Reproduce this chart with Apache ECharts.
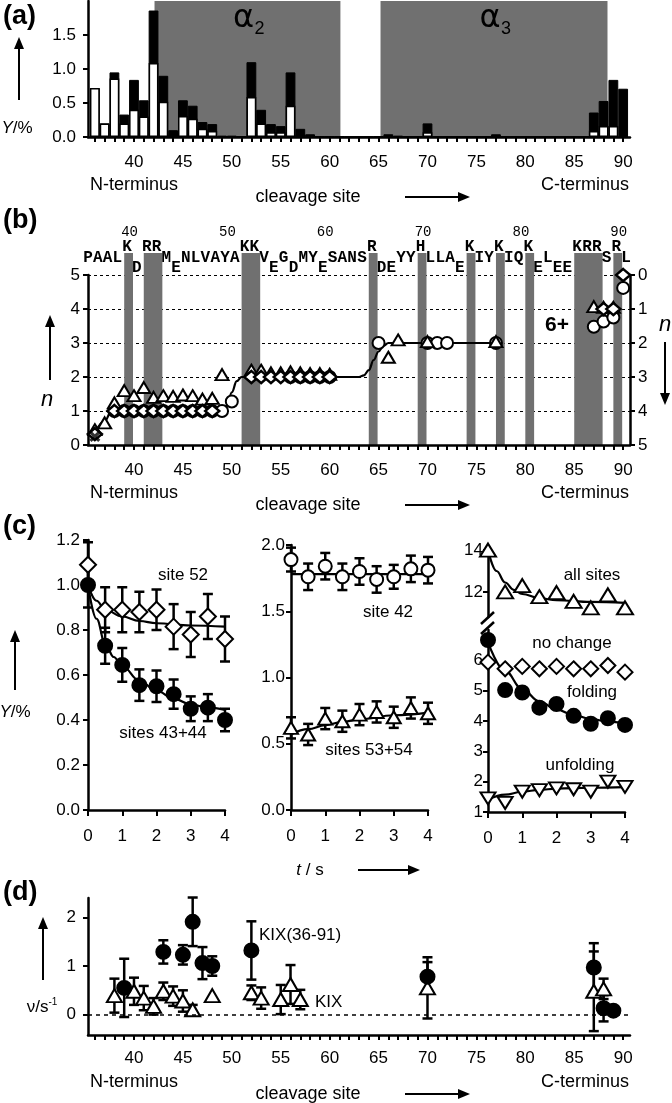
<!DOCTYPE html>
<html>
<head>
<meta charset="utf-8">
<title>KIX cleavage sites</title>
<script src="https://cdn.jsdelivr.net/npm/echarts@6/dist/echarts.min.js"></script>
<style>
    html, body { margin: 0; padding: 0; background: #fff; }
    #main { width: 672px; height: 1103px; }
</style>
</head>
<body>
<div id="main"></div>
<script>
// (a) yield per cleavage site: total (c+z, black) and z part (white)
var sites = [36,37,38,39,40,41,42,43,44,45,46,47,48,49,50,51,52,53,54,55,56,57,58,59,60,61,62,63,64,65,
             66,67,68,69,70,71,72,73,74,75,76,77,78,79,80,81,82,83,84,85,86,87,88,89,90];
var siteLabels = [40,45,50,55,60,65,70,75,80,85,90];
var yieldTotal = [0.72,0.20,0.95,0.33,0.84, 0.54,1.86,0.90,0.10,0.54, 0.46,0.22,0.19,0.02,0.02,
                  0.01,1.10,0.40,0.19,0.16, 0.95,0.12,0.04,0.01,0.01, 0.01,0,0,0,0.01,
                  0.04,0.02,0,0,0.20, 0,0,0,0,0, 0,0.04,0,0,0, 0,0,0,0,0, 0,0.36,0.53,0.84,0.71];
var yieldZ = [0.72,0.20,0.86,0.20,0.40, 0.30,1.09,0.52,0.03,0.31, 0.27,0.12,0.09,0,0,
              0,0.59,0.20,0.07,0.07, 0.46,0.03,0.01,0,0, 0,0,0,0,0,
              0,0,0,0,0.07, 0,0,0,0,0, 0,0,0,0,0, 0,0,0,0,0, 0,0.09,0.16,0.16,0];
var helices = [[42.1, 61.1], [65.2, 88.4]];
var helixNames = ['2', '3'];

// (b) sequence and number of charges n
var seqStart = 36;
var sequence = 'PAALKDRRMENLVAYAKKVEGDMYESANSRDEYYHLLAEKIYKIQKELEEKRRSRL';
var seqNumbers = [40,50,60,70,80,90];
var nFit = [[36,0.35],[37,0.7],[37.7,1.0],[49,1.02],[49.5,1.15],[50,1.55],[50.5,1.88],[51,2.0],
            [63,2.0],[63.5,2.05],[64,2.2],[64.5,2.5],[65,2.75],[65.5,2.92],[66,3.0],[77,3.0]];
var nTriangle = [[36,0.45],[37,0.65],[38,1.24],[39,1.6],[40,1.45],[41,1.69],[42,1.4],[43,1.45],[44,1.43],
                 [45,1.47],[46,1.45],[47,1.35],[48,1.37],[49,2.07],[52,2.2],[53,2.2],[54,2.12],[55,2.12],
                 [56,2.15],[57,2.12],[58,2.1],[59,2.1],[60,2.08],[66,2.58],[67,3.09],[70,3.04],[77,3.04],
                 [87,4.07],[88,4.05],[89,4.05]];
var nCircle = [[38,1.0],[39,1.0],[40,1.0],[41,1.0],[42,1.0],[43,1.0],[44,1.0],[45,1.0],[46,1.0],[47,1.0],
               [48,1.0],[49,1.0],[50,1.28],[56,2.0],[57,2.0],[58,2.0],[59,2.0],[60,2.0],[65,3.0],
               [70,3.0],[71,3.0],[72,3.0],[77,3.0],[87,3.48],[88,3.63],[89,3.75],[90,4.62]];
var nDiamond = [[36,0.32],[38,1.0],[39,1.0],[40,1.0],[41,1.0],[42,1.0],[43,1.0],[44,1.0],[45,1.0],[46,1.0],
                [47,1.0],[48,1.0],[52,2.0],[53,2.0],[54,2.0],[55,2.0],[56,2.0],[57,2.0],[58,2.0],[59,2.0],
                [60,2.0],[88,4.0],[89,4.0],[90,5.0]];
var nCross = [[36,0.25]];

// (c) kinetics, t in s
var tPts = [0,0.5,1,1.5,2,2.5,3,3.5,4];
var site52 = [1.09,0.89,0.89,0.88,0.89,0.815,0.78,0.86,0.76];
var site52Err = [0.1,0.1,0.1,0.09,0.09,0.1,0.1,0.1,0.1];
var site52Fit = [[0,1.0],[0.25,0.93],[0.5,0.89],[1,0.86],[1.5,0.84],[2,0.83],[3,0.82],[4,0.815]];
var sites4344 = [1.0,0.73,0.645,0.555,0.55,0.515,0.45,0.455,0.4];
var sites4344Err = [0.1,0.08,0.075,0.07,0.07,0.065,0.055,0.06,0.05];
var sites4344Fit = [[0,1.0],[0.25,0.85],[0.5,0.74],[0.75,0.68],[1,0.64],[1.5,0.575],[2,0.53],[2.5,0.495],
                    [3,0.47],[3.5,0.455],[4,0.445]];
var site42 = [1.89,1.76,1.84,1.76,1.8,1.74,1.76,1.82,1.81];
var site42Err = [0.09,0.1,0.1,0.1,0.1,0.1,0.09,0.1,0.1];
var site42Fit = [[0,1.78],[4,1.78]];
var sites5354 = [0.62,0.57,0.69,0.67,0.72,0.74,0.70,0.77,0.73];
var sites5354Err = [0.08,0.08,0.08,0.08,0.08,0.08,0.08,0.08,0.08];
var sites5354Fit = [[0,0.57],[0.5,0.61],[1,0.64],[1.5,0.665],[2,0.685],[3,0.715],[4,0.735]];
var allSites = [14.0,12.0,12.3,11.77,11.97,11.55,11.24,11.86,11.24];
var allSitesFit = [[0,14.0],[0.25,13.0],[0.5,12.45],[0.75,12.1],[1,11.9],[1.5,11.7],[2,11.6],[3,11.52],[4,11.48]];
var noChange = [5.94,5.72,5.8,5.72,5.8,5.72,5.72,5.83,5.61];
var folding = [6.67,5.02,4.94,4.44,4.56,4.17,3.91,4.09,3.87];
var foldingFit = [[0,6.6],[0.5,5.65],[1,5.05],[1.5,4.65],[2,4.38],[2.5,4.2],[3,4.07],[3.5,3.98],[4,3.92]];
var unfolding = [1.45,1.3,1.67,1.72,1.78,1.75,1.67,2.0,1.83];
var unfoldingFit = [[0,1.4],[0.5,1.57],[1,1.67],[1.5,1.73],[2,1.77],[3,1.8],[4,1.82]];

// (d) rates
var rateSitesFull = [39,43,45,46,47,48,52,70,87,88,89];
var rateFull = [0.55,1.29,1.23,1.91,1.06,1.0,1.32,0.78,0.97,0.13,0.08];
var rateFullErr = [0.6,0.24,0.2,0.5,0.33,0.2,0.6,0.3,0.5,0.27,0];
var rateSitesKix = [38,40,41,42,43,44,45,46,48,52,53,55,56,57,70,87,88];
var rateKix = [0.39,0.48,0.34,0.17,0.48,0.38,0.28,0.1,0.39,0.45,0.34,0.31,0.62,0.31,0.55,0.48,0.53];
var rateKixErr = [0.35,0.28,0.25,0.17,0.18,0.2,0.22,0.1,0,0.15,0.22,0.3,0.4,0.2,0.63,0.82,0.21];

var FONT = 'Liberation Sans';
var chart = echarts.init(document.getElementById('main'));

function pairs(xs, ys) { return xs.map(function (x, i) { return [x, ys[i]]; }); }
function errPairs(xs, ys, es) {
    var out = [];
    xs.forEach(function (x, i) { if (es[i] > 0) out.push([x, ys[i] - es[i], ys[i] + es[i]]); });
    return out;
}

function residueAxis(gi, margin) {
    return {
        type: 'value', gridIndex: gi, min: 35.3, max: 90.7,
        axisLine: { onZero: false, lineStyle: { color: '#000', width: 2.5 } },
        axisTick: { customValues: sites, length: 5, lineStyle: { color: '#000', width: 2 } },
        axisLabel: { customValues: siteLabels, margin: margin, color: '#000', fontSize: 17, fontFamily: FONT },
        splitLine: { show: false }
    };
}
function timeAxis(gi) {
    return {
        type: 'value', gridIndex: gi, min: 0, max: 4, interval: 1,
        axisLine: { onZero: false, lineStyle: { color: '#000', width: 2.5 } },
        axisTick: { length: 6, lineStyle: { color: '#000', width: 2 } },
        axisLabel: { margin: 18, color: '#000', fontSize: 17, fontFamily: FONT },
        splitLine: { show: false }
    };
}
function valAxis(gi, o) {
    var ax = {
        type: 'value', gridIndex: gi,
        axisLine: { show: true, onZero: false, lineStyle: { color: '#000', width: 2.5 } },
        axisTick: { show: true, length: 5, lineStyle: { color: '#000', width: 2 } },
        axisLabel: { margin: 8, color: '#000', fontSize: 17, fontFamily: FONT },
        splitLine: { show: false }
    };
    for (var k in o) {
        if (typeof o[k] === 'object' && ax[k] && !Array.isArray(o[k])) Object.assign(ax[k], o[k]);
        else ax[k] = o[k];
    }
    return ax;
}

function errorBar(params, api) {
    var lo = api.coord([api.value(0), api.value(1)]);
    var hi = api.coord([api.value(0), api.value(2)]);
    var w = 5, st = { stroke: '#000', lineWidth: 2.5 };
    return { type: 'group', children: [
        { type: 'line', shape: { x1: lo[0], y1: lo[1], x2: hi[0], y2: hi[1] }, style: st },
        { type: 'line', shape: { x1: lo[0] - w, y1: lo[1], x2: lo[0] + w, y2: lo[1] }, style: st },
        { type: 'line', shape: { x1: hi[0] - w, y1: hi[1], x2: hi[0] + w, y2: hi[1] }, style: st }
    ]};
}
function errSeries(xi, yi, data) {
    return { type: 'custom', xAxisIndex: xi, yAxisIndex: yi, renderItem: errorBar, data: data, z: 3, clip: false };
}
function fitSeries(xi, yi, data) {
    return { type: 'line', xAxisIndex: xi, yAxisIndex: yi, data: data, smooth: 0.4, smoothMonotone: 'x',
             showSymbol: false, lineStyle: { color: '#000', width: 2.2 }, z: 2 };
}
function markers(xi, yi, data, symbol, size, filled, rotate, bw) {
    return { type: 'scatter', xAxisIndex: xi, yAxisIndex: yi, data: data, symbol: symbol, symbolSize: size,
             symbolRotate: rotate || 0, clip: false,
             itemStyle: { color: filled ? '#000' : '#fff', borderColor: '#000', borderWidth: bw || 2, opacity: 1 }, z: 4 };
}

// sequence letters: basic residues on top row, acidic on bottom row
var seqItems = [];
for (var i = 0; i < sequence.length; i++) {
    var ch = sequence[i], r = seqStart + i;
    var row = 'KRH'.indexOf(ch) >= 0 ? 5.82 : ('DE'.indexOf(ch) >= 0 ? 5.21 : 5.5);
    seqItems.push({ x: r - 0.7, y: row, text: ch, font: 'bold 16px "Liberation Mono"' });
}
seqNumbers.forEach(function (n) {
    seqItems.push({ x: n - 0.45, y: 6.26, text: String(n), font: '14px "Liberation Mono"' });
});
// grey bands under runs of basic residues
var bands = [];
for (var j = 0; j < sequence.length; j++) {
    if ('KRH'.indexOf(sequence[j]) < 0) continue;
    var s = j;
    while (j + 1 < sequence.length && 'KRH'.indexOf(sequence[j + 1]) >= 0) j++;
    bands.push([seqStart + s - 1.0, seqStart + j - 0.1]);
}

function txt(x, y, s, font, align, rich) {
    var st = { text: s, font: font, fill: '#000', align: align || 'center', verticalAlign: 'middle' };
    if (rich) st.rich = rich;
    return { type: 'text', x: x, y: y, style: st };
}
function arrow(x1, y1, x2, y2) {
    var a = Math.atan2(y2 - y1, x2 - x1), L = 12, W = 5;
    var bx = x2 - L * Math.cos(a), by = y2 - L * Math.sin(a);
    var px = -Math.sin(a) * W, py = Math.cos(a) * W;
    return [
        { type: 'line', shape: { x1: x1, y1: y1, x2: bx, y2: by }, style: { stroke: '#000', lineWidth: 2 } },
        { type: 'polygon', shape: { points: [[x2, y2], [bx + px, by + py], [bx - px, by - py]] }, style: { fill: '#000' } }
    ];
}

var F17 = '17px "' + FONT + '"', F18 = '18px "' + FONT + '"', PB = 'bold 27px "' + FONT + '"';
var italicRich = { i: { fontStyle: 'italic', fontFamily: FONT, fontSize: 17 } };
var graphics = [
    txt(3, 17, '(a)', PB, 'left'), txt(3, 221, '(b)', PB, 'left'),
    txt(3, 527, '(c)', PB, 'left'), txt(3, 893, '(d)', PB, 'left'),
    txt(17, 128, '{i|Y}/%', F17, 'center', italicRich),
    txt(15, 712, '{i|Y}/%', F17, 'center', italicRich),
    txt(47, 400, 'n', 'italic 22px "' + FONT + '"'),
    txt(665, 325, 'n', 'italic 22px "' + FONT + '"'),
    txt(42, 1007, 'ν/s{s|-1}', F17, 'center', { s: { fontSize: 10, fontFamily: FONT, verticalAlign: 'top', padding: [0, 0, 10, 0] } }),
    txt(90, 185, 'N-terminus', F18, 'left'), txt(629, 185, 'C-terminus', F18, 'right'),
    txt(308, 197, 'cleavage site', F18),
    txt(90, 493, 'N-terminus', F18, 'left'), txt(629, 493, 'C-terminus', F18, 'right'),
    txt(308, 505, 'cleavage site', F18),
    txt(90, 1082, 'N-terminus', F18, 'left'), txt(629, 1082, 'C-terminus', F18, 'right'),
    txt(308, 1094, 'cleavage site', F18),
    txt(310, 870, '{i|t} / s', F17, 'center', italicRich),
    txt(224, 75, 'c', 'italic bold 21px "Liberation Serif"'),
    txt(224, 100, 'z', 'italic bold 21px "Liberation Serif"'),
    { type: 'polyline', shape: { points: [[231, 79], [239, 83], [245, 90]] }, style: { stroke: '#000', lineWidth: 1.5, lineDash: [2, 2], fill: null } },
    { type: 'polyline', shape: { points: [[231, 103], [239, 107], [246, 115]] }, style: { stroke: '#000', lineWidth: 1.5, lineDash: [2, 2], fill: null } },
    txt(557, 325, '6+', 'bold 21px "' + FONT + '"'),
    txt(183, 575, 'site 52', F17), txt(163, 733, 'sites 43+44', F17),
    txt(388, 612, 'site 42', F17), txt(369, 750, 'sites 53+54', F17),
    txt(592, 575, 'all sites', F17), txt(572, 643, 'no change', F17),
    txt(592, 692, 'folding', F17), txt(580, 765, 'unfolding', F17),
    txt(259, 935, 'KIX(36-91)', F17, 'left'), txt(315, 1002, 'KIX', F17, 'left'),
    { type: 'line', shape: { x1: 481, y1: 624, x2: 494, y2: 612 }, style: { stroke: '#000', lineWidth: 2.5 } },
    { type: 'line', shape: { x1: 481, y1: 634, x2: 494, y2: 622 }, style: { stroke: '#000', lineWidth: 2.5 } }
];
graphics = graphics.concat(
    arrow(19, 100, 19, 37), arrow(405, 197, 470, 197),
    arrow(50, 380, 50, 315), arrow(665, 342, 665, 405), arrow(405, 505, 470, 505),
    arrow(15, 690, 15, 630), arrow(358, 870, 420, 870),
    arrow(43, 980, 43, 917), arrow(405, 1094, 470, 1094)
);

var option = {
    animation: false,
    backgroundColor: '#fff',
    grid: [
        { left: 88, top: 1, width: 542, height: 136 },
        { left: 88, top: 275, width: 542, height: 170 },
        { left: 88, top: 540, width: 137, height: 270 },
        { left: 291, top: 545, width: 137, height: 265 },
        { left: 488, top: 548, width: 137, height: 69 },
        { left: 488, top: 630, width: 137, height: 182 },
        { left: 88, top: 898, width: 542, height: 137 }
    ],
    xAxis: [
        residueAxis(0, 17), residueAxis(1, 17), timeAxis(2), timeAxis(3),
        { type: 'value', gridIndex: 4, min: 0, max: 4, show: false },
        timeAxis(5), residueAxis(6, 15)
    ],
    yAxis: [
        valAxis(0, { min: 0, max: 2.0, axisTick: { customValues: [0, 0.5, 1, 1.5] },
                     axisLabel: { customValues: [0, 0.5, 1, 1.5], margin: 12, formatter: function (v) { return v.toFixed(1); } } }),
        valAxis(1, { min: 0, max: 5, interval: 1,
                     splitLine: { show: true, lineStyle: { color: '#000', width: 1, type: [3, 3] } } }),
        valAxis(1, { min: 0, max: 5, interval: 1, inverse: true, position: 'right' }),
        valAxis(2, { min: 0, max: 1.2, interval: 0.2, axisLabel: { formatter: function (v) { return v.toFixed(1); } } }),
        valAxis(3, { min: 0, max: 2, interval: 0.5, axisLabel: { margin: 6, formatter: function (v) { return v.toFixed(1); } } }),
        valAxis(4, { min: 10.8, max: 14.1, axisTick: { customValues: [12, 14] }, axisLabel: { customValues: [12, 14], margin: 5 } }),
        valAxis(5, { min: 1, max: 7, axisTick: { customValues: [1, 2, 3, 4, 5, 6] }, axisLabel: { customValues: [1, 2, 3, 4, 5, 6], margin: 5 } }),
        valAxis(6, { min: -0.42, max: 2.4, axisTick: { customValues: [0, 1, 2] }, axisLabel: { customValues: [0, 1, 2], margin: 12 } })
    ],
    graphic: graphics,
    series: [
        // (a)
        {
            type: 'custom', xAxisIndex: 0, yAxisIndex: 0, data: helices, z: 0, clip: false,
            renderItem: function (params, api) {
                var cs = params.coordSys;
                var a = api.coord([api.value(0), 0]), b = api.coord([api.value(1), 0]);
                var cx = (a[0] + b[0]) / 2;
                return { type: 'group', children: [
                    { type: 'rect', shape: { x: a[0], y: cs.y, width: b[0] - a[0], height: cs.height }, style: { fill: '#707070' } },
                    { type: 'text', x: cx - 4, y: cs.y + 18, style: { text: 'α', font: '32px "DejaVu Sans"', fill: '#000', align: 'center', verticalAlign: 'middle' } },
                    { type: 'text', x: cx + 12, y: cs.y + 28, style: { text: helixNames[params.dataIndex], font: '18px "' + FONT + '"', fill: '#000', align: 'center', verticalAlign: 'middle' } }
                ]};
            }
        },
        { type: 'bar', xAxisIndex: 0, yAxisIndex: 0, barWidth: 9.8, barGap: '-100%', data: pairs(sites, yieldTotal),
          itemStyle: { color: '#000', borderColor: '#000', borderWidth: 1 }, z: 2 },
        { type: 'bar', xAxisIndex: 0, yAxisIndex: 0, barWidth: 9.8, barGap: '-100%', data: pairs(sites, yieldZ),
          itemStyle: { color: '#fff', borderColor: '#000', borderWidth: 1.5 }, z: 3 },
        // (b)
        {
            type: 'custom', xAxisIndex: 1, yAxisIndex: 1, data: bands, z: 0, clip: false,
            renderItem: function (params, api) {
                var cs = params.coordSys;
                var a = api.coord([api.value(0), 0]), b = api.coord([api.value(1), 0]);
                return { type: 'rect', shape: { x: a[0], y: cs.y - 22, width: b[0] - a[0], height: cs.height + 22 }, style: { fill: '#707070' } };
            }
        },
        {
            type: 'custom', xAxisIndex: 1, yAxisIndex: 1, z: 5, clip: false,
            data: seqItems.map(function (d) { return [d.x, d.y]; }),
            renderItem: function (params, api) {
                var p = api.coord([api.value(0), api.value(1)]);
                var it = seqItems[params.dataIndex];
                return { type: 'text', x: p[0], y: p[1], style: { text: it.text, font: it.font, fill: '#000', align: 'center', verticalAlign: 'middle' } };
            }
        },
        fitSeries(1, 1, nFit),
        markers(1, 1, nCircle, 'circle', 12, false),
        markers(1, 1, nTriangle, 'triangle', [13, 11], false),
        Object.assign(markers(1, 1, nDiamond, 'diamond', [14, 12], false, 0, 2.5), { z: 5 }),
        { type: 'scatter', xAxisIndex: 1, yAxisIndex: 1, data: nCross, z: 5,
          symbol: 'path://M0,2L2,0L5,3L8,0L10,2L7,5L10,8L8,10L5,7L2,10L0,8L3,5Z', symbolSize: 11,
          itemStyle: { color: '#000' } },
        // (c) left
        fitSeries(2, 3, site52Fit), fitSeries(2, 3, sites4344Fit),
        errSeries(2, 3, errPairs(tPts, site52, site52Err)),
        errSeries(2, 3, errPairs(tPts, sites4344, sites4344Err)),
        markers(2, 3, pairs(tPts, site52), 'diamond', 16, false),
        markers(2, 3, pairs(tPts, sites4344), 'circle', 14, true),
        // (c) middle
        fitSeries(3, 4, site42Fit), fitSeries(3, 4, sites5354Fit),
        errSeries(3, 4, errPairs(tPts, site42, site42Err)),
        errSeries(3, 4, errPairs(tPts, sites5354, sites5354Err)),
        markers(3, 4, pairs(tPts, site42), 'circle', 13, false),
        markers(3, 4, pairs(tPts, sites5354), 'triangle', [14, 12], false),
        // (c) right
        fitSeries(4, 5, allSitesFit),
        markers(4, 5, pairs(tPts, allSites), 'triangle', [16, 13], false),
        fitSeries(5, 6, foldingFit), fitSeries(5, 6, unfoldingFit),
        markers(5, 6, pairs(tPts, noChange), 'diamond', 15, false),
        markers(5, 6, pairs(tPts, folding), 'circle', 14, true),
        markers(5, 6, pairs(tPts, unfolding), 'triangle', [15, 12], false, 180),
        // (d)
        errSeries(6, 7, errPairs(rateSitesFull, rateFull, rateFullErr)),
        errSeries(6, 7, errPairs(rateSitesKix, rateKix, rateKixErr)),
        markers(6, 7, pairs(rateSitesKix, rateKix), 'triangle', [15, 13], false),
        Object.assign(markers(6, 7, pairs(rateSitesFull, rateFull), 'circle', 14, true), {
            markLine: { silent: true, symbol: 'none', label: { show: false },
                        lineStyle: { color: '#000', width: 1.5, type: [4, 4] }, data: [{ yAxis: 0 }] }
        })
    ]
};
chart.setOption(option);
window.onresize = chart.resize;
</script>
</body>
</html>
